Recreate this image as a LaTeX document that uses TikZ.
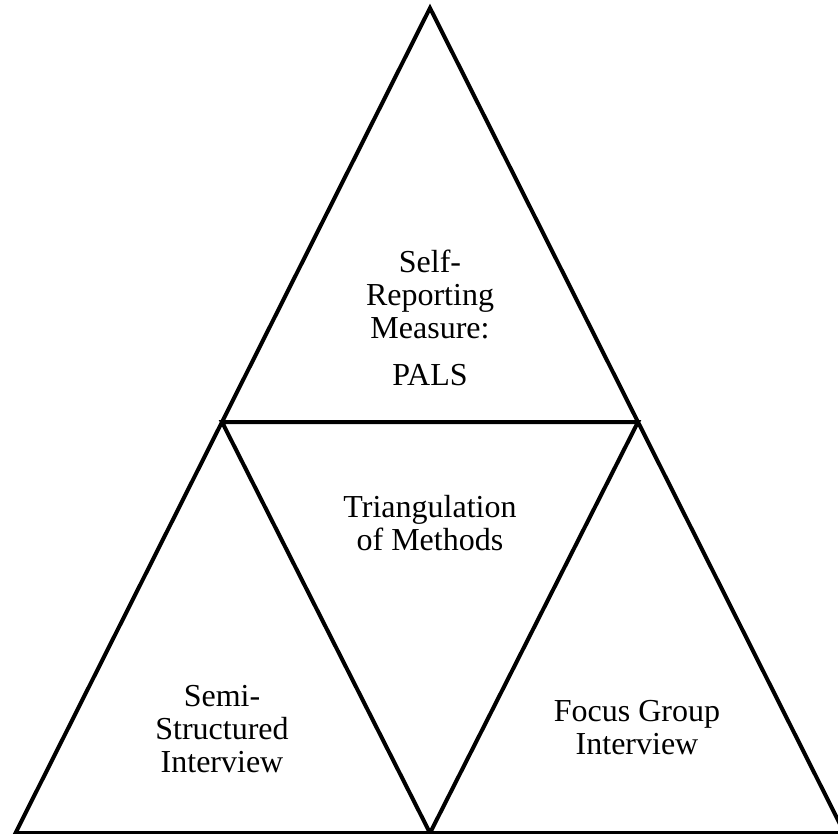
\documentclass[tikz,border=0pt]{standalone}
\usepackage{fontspec}
\setmainfont{Liberation Serif}

\begin{document}
\begin{tikzpicture}[x=0.75pt,y=-0.75pt,line join=miter,
 edge/.style={draw,line width=3pt},
 lbl/.style={align=center,font=\fontsize{24}{24.75}\selectfont,inner sep=0pt}]
\useasboundingbox (0,0) rectangle (838,833);
% corners of the big triangle and of the turned inner one
\coordinate (top) at (430,8);
\coordinate (bl) at (15.5,833);
\coordinate (br) at (844.5,833);
\coordinate (ml) at (222,422);
\coordinate (mr) at (638,422);
\coordinate (mb) at (430,833);
\draw[edge] (top)--(bl)--(br)--cycle;
\draw[edge] (ml)--(mr)--(mb)--cycle;
% texts
\node[lbl] (self) at (430,318) {Self-\\Reporting\\Measure:\\[11pt]PALS};
\node[lbl] (tri) at (430,523) {Triangulation\\of Methods};
\node[lbl] (semi) at (222,729) {Semi-\\Structured\\Interview};
\node[lbl] (focus) at (637,727.5) {Focus Group\\Interview};
\end{tikzpicture}
\end{document}
